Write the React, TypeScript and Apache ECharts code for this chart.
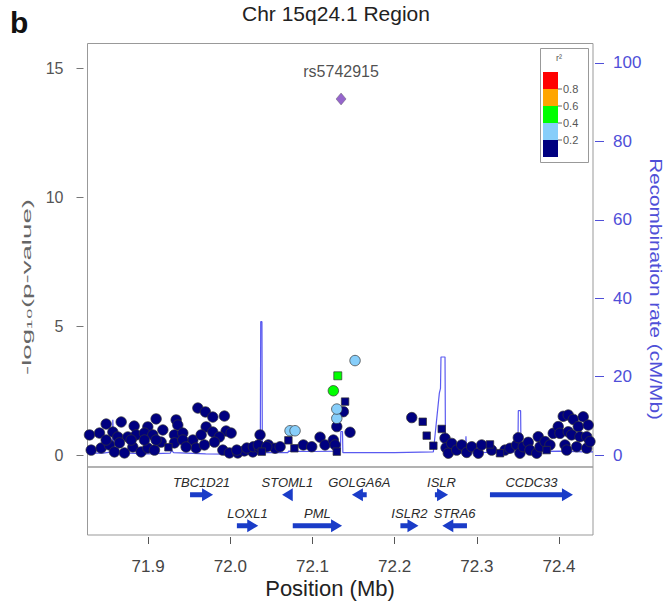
import React, { useEffect, useRef } from "react";
import * as echarts from "echarts";

// ---------- data ----------
const TITLE = "Chr 15q24.1 Region";
const PANEL_LETTER = "b";
const X_NAME = "Position (Mb)";
const Y_NAME = "-log\u2081\u2080(p-value)";
const Y2_NAME = "Recombination rate (cM/Mb)";
const LEGEND_TITLE = "r\u00b2";

const X_MIN = 71.8262;
const X_MAX = 72.4414;
const X_TICKS = [71.9, 72.0, 72.1, 72.2, 72.3, 72.4];
const Y_TICKS = [0, 5, 10, 15];
const RECOMB_TICKS = [0, 20, 40, 60, 80, 100];

const LD_BREAKS = ["0.2", "0.4", "0.6", "0.8"];
const LD_COLORS = ["#000080", "#87CEFA", "#00FF00", "#FFA500", "#FF0000"];
const LEAD_COLOR = "#7B3FBF";

const LEAD_SNP = "rs5742915";
const LEAD_POINT = [[72.1348, 13.8]];

const NAVY_CIRCLES = [
  [71.9605, 1.82], [71.9697, 1.67], [71.9787, 1.47], [71.9928, 1.51],
  [71.9097, 1.4], [71.9341, 1.36], [71.8672, 1.28], [71.8489, 1.2], [71.883, 1.12], [71.8996, 1.09],
  [71.9361, 1.16], [71.9706, 1.09], [71.9949, 0.93], [72.001, 0.85],
  [71.8286, 0.78], [71.8408, 0.85], [71.8571, 0.89], [71.8631, 0.7], [71.8753, 0.7], [71.8854, 0.78],
  [71.8955, 0.85], [71.9057, 0.78], [71.9179, 0.97], [71.932, 0.78], [71.9422, 0.85], [71.9544, 0.58],
  [71.9645, 0.78], [71.9787, 0.89], [71.9867, 0.7],
  [71.8307, 0.19], [71.8428, 0.27], [71.8529, 0.39], [71.859, 0.12], [71.8712, 0.08], [71.8814, 0.31],
  [71.8915, 0.12], [71.8996, 0.27], [71.9077, 0.19], [71.9158, 0.5], [71.932, 0.47], [71.9422, 0.58],
  [71.9584, 0.27], [71.9685, 0.39], [71.9807, 0.5], [71.9909, 0.19], [71.9989, 0.08], [72.0091, 0.08],
  [72.0171, 0.16], [72.0274, 0.12],
  [71.8489, 0.58], [71.8651, 0.47], [71.8793, 0.58], [71.8955, 0.58], [71.9097, 0.58], [71.9462, 0.31],
  [72.0079, 0.19], [72.0201, 0.27], [72.0281, 0.32],
  [72.0354, 0.27], [72.0362, 0.78], [72.0342, 0.39], [72.0463, 0.39], [72.0545, 0.26], [72.0444, 0.32],
  [72.0606, 0.32],
  [72.0889, 0.39], [72.0991, 0.32], [72.1092, 0.69], [72.1153, 0.39], [72.1254, 0.58], [72.1275, 0.39],
  [72.1296, 1.1], [72.1376, 1.68], [72.1457, 0.88], [72.2208, 1.45],
  [72.2613, 0.65], [72.2625, 0.28], [72.2653, 0.07], [72.2694, 0.45], [72.2755, 0.19], [72.2816, 0.39],
  [72.2877, 0.1], [72.2938, 0.32], [72.3018, 0.07], [72.3059, 0.39], [72.3181, 0.19], [72.3343, 0.19],
  [72.3404, 0.26], [72.3485, 0.39], [72.3505, 0.67], [72.3525, 0.07], [72.3566, 0.32], [72.3626, 0.49],
  [72.3647, 0.19], [72.3729, 0.07], [72.3748, 0.71], [72.3769, 0.32], [72.383, 0.52], [72.389, 0.39],
  [72.393, 0.84], [72.3991, 1.1], [72.4012, 0.84], [72.4052, 1.5], [72.4073, 0.39], [72.4094, 0.19],
  [72.4113, 1.55], [72.4113, 0.9], [72.4154, 0.78], [72.4174, 1.38], [72.4215, 0.32], [72.4235, 1.1],
  [72.4255, 0.71], [72.4295, 1.48], [72.4337, 0.71], [72.4337, 0.26], [72.4356, 1.16], [72.4377, 0.52],
];

const NAVY_SQUARES = [
  [71.9247, 0.3], [72.0383, 0.13], [72.0707, 0.57], [72.078, 0.26], [72.1296, 0.13], [72.1397, 2.07],
  [72.2342, 1.29], [72.239, 0.75], [72.2471, 0.36], [72.2573, 1.01], [72.316, 0.41], [72.3282, 0.07],
  [72.385, 0.19],
];

const LIGHTBLUE_CIRCLES = [[72.0727, 0.94], [72.0788, 0.94], [72.1296, 1.42], [72.1296, 1.78], [72.1518, 3.66]];
const GREEN_CIRCLES = [[72.1254, 2.49]];
const GREEN_SQUARES = [[72.1308, 3.07]];

const RECOMB_POS = [
  71.8262, 71.845, 71.8565, 71.857, 71.8578, 71.8583, 71.86, 71.9, 71.927, 71.9285, 71.931, 71.97, 72.0,
  72.0365, 72.037, 72.0385, 72.039, 72.07, 72.071, 72.1, 72.134, 72.1345, 72.1365, 72.137, 72.2, 72.2471,
  72.2544, 72.2558, 72.2564, 72.2613, 72.2619, 72.2862, 72.2868, 72.2874, 72.3, 72.35, 72.3505, 72.3533,
  72.3538, 72.4, 72.43, 72.4414,
];
const RECOMB_RATE = [
  0.5, 0.5, 0.8, 9, 9, 0.8, 0.6, 0.3, 0.5, 1.2, 0.6, 0.3, 0.2,
  0.3, 34, 34, 0.6, 0.6, 1.0, 0.9, 1.0, 6, 6, 0.6, 0.6, 0.8,
  15.8, 17, 25, 25, 0.5, 0.5, 4.8, 0.5, 0.6, 0.8, 11.3, 11.3,
  0.8, 1.0, 0.8, 0.8,
];

const GENE_NAMES = ["TBC1D21", "STOML1", "GOLGA6A", "ISLR", "CCDC33", "LOXL1", "PML", "ISLR2", "STRA6"];
const GENE_START = [71.951, 72.063, 72.148, 72.249, 72.316, 72.008, 72.076, 72.207, 72.258];
const GENE_END = [71.979, 72.076, 72.166, 72.265, 72.417, 72.034, 72.136, 72.229, 72.288];
const GENE_STRAND = [1, -1, -1, 1, 1, 1, 1, 1, -1];
const GENE_ROW = [1, 1, 1, 1, 1, 2, 2, 2, 2];

// ---------- styling ----------
const FONT = '"Liberation Sans", Arial, sans-serif';
const GENE_COLOR = "#1a3cc8";
const RECOMB_COLOR = "#5a5af0";
const AXIS_BLUE = "#4f4fd8";
const BORDER = "#999";

function measure(text: string, font: string): number {
  const ctx = document.createElement("canvas").getContext("2d");
  if (!ctx) return text.length * 8;
  ctx.font = font;
  return ctx.measureText(text).width;
}

function scatter(data: number[][], symbol: string, size: number, color: string, z: number) {
  return {
    type: "scatter",
    xAxisIndex: 0,
    yAxisIndex: 0,
    data,
    symbol,
    symbolSize: size,
    z,
    itemStyle: { color, borderColor: "#333", borderWidth: 0.7, opacity: 1 },
    emphasis: { disabled: true },
  };
}

function buildOption() {
  const leftNameW = measure(Y_NAME, `13px ${FONT}`);
  const rightNameW = measure(Y2_NAME, `16px ${FONT}`);

  const legendX = 543;
  const bandH = 17;
  const bandBottom = 157;
  const legendGraphics: any[] = [
    {
      type: "rect",
      shape: { x: 540.5, y: 48.5, width: 48, height: 114 },
      style: { fill: "#fff", stroke: BORDER, lineWidth: 1 },
      z: 100,
    },
    {
      type: "text",
      x: 559,
      y: 58,
      style: { text: LEGEND_TITLE, fontSize: 9, fill: "#555", fontFamily: FONT, align: "center", verticalAlign: "middle" },
      z: 101,
    },
  ];
  LD_COLORS.forEach((c, i) => {
    legendGraphics.push({
      type: "rect",
      shape: { x: legendX, y: bandBottom - (i + 1) * bandH, width: 15, height: bandH },
      style: { fill: c },
      z: 101,
    });
  });
  LD_BREAKS.forEach((b, i) => {
    const y = bandBottom - (i + 1) * bandH;
    legendGraphics.push({
      type: "line",
      shape: { x1: legendX + 15, y1: y, x2: legendX + 19, y2: y },
      style: { stroke: "#666", lineWidth: 1 },
      z: 101,
    });
    legendGraphics.push({
      type: "text",
      x: legendX + 20,
      y,
      style: { text: b, fontSize: 11, fill: "#555", fontFamily: FONT, align: "left", verticalAlign: "middle" },
      z: 101,
    });
  });

  const option: any = {
    animation: false,
    backgroundColor: "#fff",
    textStyle: { fontFamily: FONT },
    grid: [
      { left: 87.5, top: 43.5, width: 505.5, height: 423.5, show: true, borderColor: BORDER, borderWidth: 1, backgroundColor: "transparent" },
      { left: 87.5, top: 467, width: 505.5, height: 68, show: true, borderColor: BORDER, borderWidth: 1, backgroundColor: "transparent" },
    ],
    xAxis: [
      { gridIndex: 0, type: "value", min: X_MIN, max: X_MAX, show: false },
      {
        gridIndex: 1,
        type: "value",
        min: X_MIN,
        max: X_MAX,
        position: "bottom",
        offset: 2,
        axisLine: { show: false },
        splitLine: { show: false },
        axisTick: { show: true, length: 7, customValues: X_TICKS, lineStyle: { color: "#555", width: 1 } },
        axisLabel: {
          customValues: X_TICKS,
          formatter: (v: number) => v.toFixed(1),
          fontSize: 17,
          color: "#444",
          margin: 21,
          fontFamily: FONT,
        },
      },
    ],
    yAxis: [
      {
        gridIndex: 0,
        type: "value",
        min: -0.465,
        max: 15.95,
        position: "left",
        offset: 4,
        axisLine: { show: false },
        splitLine: { show: false },
        axisTick: { show: true, length: 7, customValues: Y_TICKS, lineStyle: { color: "#777" } },
        axisLabel: { customValues: Y_TICKS, fontSize: 16, color: "#555", margin: 20, fontFamily: FONT },
      },
      {
        gridIndex: 0,
        type: "value",
        min: -3.06,
        max: 104.97,
        position: "right",
        offset: 2,
        axisLine: { show: false },
        splitLine: { show: false },
        axisTick: { show: true, length: 9, customValues: RECOMB_TICKS, lineStyle: { color: AXIS_BLUE } },
        axisLabel: { customValues: RECOMB_TICKS, fontSize: 17, color: AXIS_BLUE, margin: 18, fontFamily: FONT },
      },
      { gridIndex: 1, type: "value", min: 0.1, max: 2.3, inverse: true, show: false },
    ],
    series: [
      {
        type: "line",
        xAxisIndex: 0,
        yAxisIndex: 1,
        data: RECOMB_POS.map((p, i) => [p, RECOMB_RATE[i]]),
        symbol: "none",
        lineStyle: { color: RECOMB_COLOR, width: 1.2 },
        z: 1,
        clip: true,
        emphasis: { disabled: true },
      },
      scatter(NAVY_CIRCLES, "circle", 10.5, LD_COLORS[0], 2),
      scatter(NAVY_SQUARES, "rect", 7.5, LD_COLORS[0], 3),
      scatter(LIGHTBLUE_CIRCLES, "circle", 10.5, LD_COLORS[1], 4),
      scatter(GREEN_CIRCLES, "circle", 10.5, LD_COLORS[2], 4),
      scatter(GREEN_SQUARES, "rect", 8, LD_COLORS[2], 4),
      {
        ...scatter(LEAD_POINT, "diamond", [10, 12] as any, LEAD_COLOR, 5),
        itemStyle: { color: LEAD_COLOR, borderColor: "#555", borderWidth: 0.5 },
        label: {
          show: true,
          position: "top",
          distance: 13,
          formatter: LEAD_SNP,
          fontSize: 16,
          color: "#222",
          fontFamily: FONT,
        },
      },
      {
        type: "custom",
        xAxisIndex: 1,
        yAxisIndex: 2,
        clip: false,
        data: GENE_NAMES.map((_, i) => [GENE_START[i], GENE_END[i], GENE_ROW[i], GENE_STRAND[i]]),
        renderItem: (params: any, api: any) => {
          const start = api.value(0);
          const end = api.value(1);
          const row = api.value(2);
          const strand = api.value(3);
          const p0 = api.coord([start, row]);
          const p1 = api.coord([end, row]);
          const y = p0[1];
          const x0 = p0[0];
          const x1 = p1[0];
          const head = Math.min(11, x1 - x0);
          const hh = 6.5;
          const sh = 2.5;
          let pts: number[][];
          if (strand > 0) {
            const hb = x1 - head;
            pts = [[x0, y - sh], [hb, y - sh], [hb, y - hh], [x1, y], [hb, y + hh], [hb, y + sh], [x0, y + sh]];
          } else {
            const hb = x0 + head;
            pts = [[x1, y - sh], [hb, y - sh], [hb, y - hh], [x0, y], [hb, y + hh], [hb, y + sh], [x1, y + sh]];
          }
          return {
            type: "group",
            children: [
              { type: "polygon", shape: { points: pts }, style: { fill: GENE_COLOR } },
              {
                type: "text",
                x: (x0 + x1) / 2,
                y: y - 12.5,
                style: {
                  text: GENE_NAMES[params.dataIndex],
                  fill: "#2a2a2a",
                  fontSize: 13,
                  fontStyle: "italic",
                  fontFamily: FONT,
                  align: "center",
                  verticalAlign: "middle",
                },
              },
            ],
          };
        },
      },
    ],
    graphic: [
      {
        type: "text",
        x: 10,
        y: 22,
        style: { text: PANEL_LETTER, fontSize: 30, fontWeight: "bold", fill: "#111", fontFamily: FONT, align: "left", verticalAlign: "middle" },
      },
      {
        type: "text",
        x: 336,
        y: 13,
        style: { text: TITLE, fontSize: 21, fill: "#222", fontFamily: FONT, align: "center", verticalAlign: "middle" },
      },
      {
        type: "text",
        x: 330,
        y: 588,
        style: { text: X_NAME, fontSize: 22, fill: "#222", fontFamily: FONT, align: "center", verticalAlign: "middle" },
      },
      {
        type: "text",
        x: 26,
        y: 287,
        rotation: Math.PI / 2,
        scaleX: 176 / leftNameW,
        style: { text: Y_NAME, fontSize: 13, fill: "#666", fontFamily: FONT, align: "center", verticalAlign: "middle" },
      },
      {
        type: "text",
        x: 656,
        y: 289,
        rotation: -Math.PI / 2,
        scaleX: 262 / rightNameW,
        style: { text: Y2_NAME, fontSize: 16, fill: AXIS_BLUE, fontFamily: FONT, align: "center", verticalAlign: "middle" },
      },
      ...legendGraphics,
    ],
  };
  return option;
}

export default function App() {
  const ref = useRef<HTMLDivElement>(null);
  useEffect(() => {
    document.body.style.margin = "0";
    if (!ref.current) return;
    const chart = echarts.init(ref.current, null, { renderer: "svg" });
    chart.setOption(buildOption());
    return () => chart.dispose();
  }, []);
  return <div ref={ref} style={{ width: 667, height: 602 }} />;
}
